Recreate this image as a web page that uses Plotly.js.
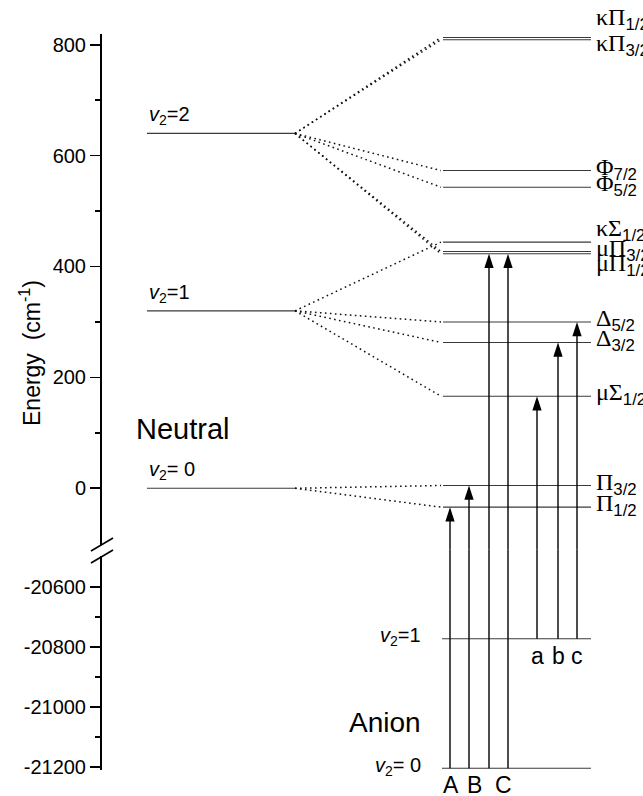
<!DOCTYPE html>
<html><head><meta charset="utf-8">
<script src="https://cdn.plot.ly/plotly-3.0.1.min.js"></script>
<style>body{margin:0;background:#fff}#chart{width:643px;height:796px}</style>
</head><body><div id="chart"></div>
<script>
// ---------------- data ----------------
const neutralV2 = [0, 1, 2];
const neutralEnergies = [0, 320, 640];
const neutralLabels = ['<i>v</i><sub>2</sub>= 0', '<i>v</i><sub>2</sub>=1', '<i>v</i><sub>2</sub>=2'];
const anionV2 = [0, 1];
const anionEnergies = [-21205, -20772];
const anionLabels = ['<i>v</i><sub>2</sub>= 0', '<i>v</i><sub>2</sub>=1'];
const stateSymbols = ['Π', 'Π', 'μΣ', 'Δ', 'Δ', 'κΣ', 'μΠ', 'μΠ', 'Φ', 'Φ', 'κΠ', 'κΠ'];
const stateSubs = ['1/2', '3/2', '1/2', '3/2', '5/2', '1/2', '1/2', '3/2', '5/2', '7/2', '3/2', '1/2'];
const stateEnergies = [-34, 5, 166, 263, 300, 444, 423, 427, 543, 573, 809, 813];
const stateParentV2 = [0, 0, 1, 1, 1, 1, 2, 2, 2, 2, 2, 2];
const transitionLabels = ['A', 'B', '', 'C', 'a', 'b', 'c'];
const transitionFromV2 = [0, 0, 0, 0, 1, 1, 1];
const transitionToState = [0, 1, 6, 6, 2, 3, 4];
const upperTicks = [0, 200, 400, 600, 800];
const upperTickText = ['0', '200', '400', '600', '800'];
const upperMinor = [100, 300, 500, 700];
const lowerTicks = [-21200, -21000, -20800, -20600];
const lowerTickText = ['-21200', '-21000', '-20800', '-20600'];
const lowerMinor = [-21100, -20900, -20700];

// ---------------- layout constants ----------------
const L = 102, W = 541, T = 34, H = 736, FIGH = 796;
const BREAK_PX = 549.5;
const upperRange = [-110.4, 819.3];
const lowerRange = [-21211, -20473.6];
const dSplit = (T + H - BREAK_PX) / H;
const px = v => (v - L) / W;          // pixel x -> paper
const py = v => (T + H - v) / H;      // pixel y -> paper
const leftLine = [147, 295];
const rightLine = [443, 591];
const anionLine = [442, 591];
const dotEnd = 441;
const transitionX = [450, 469, 489, 508, 537, 558, 577];
const transitionLabelX = [451, 474, 0, 503, 537, 558, 577];
const labelShift = {'κΠ1/2': 16, 'κΠ3/2': -7, 'κΣ1/2': 10, 'μΠ3/2': 0, 'μΠ1/2': -13};

const SANS = 'Liberation Sans, Arial, sans-serif';
const SERIF = 'Liberation Serif, Times New Roman, serif';
const LVL = {color: '#3a3a3a', width: 1.1};

function segs(list) { // list of [[x0,y0],[x1,y1]]
  const x = [], y = [];
  list.forEach(s => { x.push(s[0][0], s[1][0], null); y.push(s[0][1], s[1][1], null); });
  return {x, y};
}

const traces = [];
let s = segs(neutralEnergies.map(e => [[leftLine[0], e], [leftLine[1], e]]));
traces.push({x: s.x, y: s.y, xaxis: 'x', yaxis: 'y', mode: 'lines', line: LVL, hoverinfo: 'skip'});
s = segs(stateEnergies.map(e => [[rightLine[0], e], [rightLine[1], e]]));
traces.push({x: s.x, y: s.y, xaxis: 'x', yaxis: 'y', mode: 'lines', line: LVL, hoverinfo: 'skip'});
s = segs(stateEnergies.map((e, i) => [[leftLine[1], neutralEnergies[neutralV2.indexOf(stateParentV2[i])]], [dotEnd, e]]));
traces.push({x: s.x, y: s.y, xaxis: 'x', yaxis: 'y', mode: 'lines',
  line: {color: '#111', width: 1.5, dash: '1.6px,3.4px'}, hoverinfo: 'skip'});
s = segs(anionEnergies.map(e => [[anionLine[0], e], [anionLine[1], e]]));
traces.push({x: s.x, y: s.y, xaxis: 'x', yaxis: 'y2', mode: 'lines', line: LVL, hoverinfo: 'skip'});
s = segs(transitionX.map((xx, i) => [[xx, anionEnergies[anionV2.indexOf(transitionFromV2[i])]], [xx, lowerRange[1] + 300]]));
traces.push({x: s.x, y: s.y, xaxis: 'x', yaxis: 'y2', mode: 'lines', line: {color: '#000', width: 1.4}, hoverinfo: 'skip'});
s = segs(transitionX.map((xx, i) => [[xx, upperRange[0] - 300], [xx, stateEnergies[transitionToState[i]] - 8]]));
traces.push({x: s.x, y: s.y, xaxis: 'x', yaxis: 'y', mode: 'lines', line: {color: '#000', width: 1.4}, hoverinfo: 'skip'});
traces.push({x: transitionX, y: transitionToState.map(k => stateEnergies[k]), xaxis: 'x', yaxis: 'y',
  mode: 'markers', marker: {symbol: 'arrow', size: 15, color: '#000', line: {width: 0}}, hoverinfo: 'skip'});

const ann = [];
neutralEnergies.forEach((e, i) => ann.push({xref: 'x', yref: 'y', x: leftLine[0], y: e, xanchor: 'left', yanchor: 'bottom',
  yshift: 3, showarrow: false, text: neutralLabels[i], font: {family: SANS, size: 20, color: '#000'}}));
anionEnergies.forEach((e, i) => ann.push({xref: 'x', yref: 'y2', x: 423, y: e, xanchor: 'right', yanchor: 'middle',
  yshift: 2, showarrow: false, text: anionLabels[i], font: {family: SANS, size: 20, color: '#000'}}));
stateEnergies.forEach((e, i) => {
  const key = stateSymbols[i] + stateSubs[i];
  ann.push({xref: 'x', yref: 'y', x: 594, y: e, xanchor: 'left', yanchor: 'middle',
    yshift: (labelShift[key] || 0) + 2, showarrow: false,
    text: '<span style="font-family:' + SERIF + '">' + stateSymbols[i] + '</span><sub>' + stateSubs[i] + '</sub>',
    font: {family: SANS, size: 24, color: '#000'}});
});
transitionLabels.forEach((t, i) => {
  if (!t) return;
  const from = anionEnergies[anionV2.indexOf(transitionFromV2[i])];
  ann.push({xref: 'x', yref: 'y2', x: transitionLabelX[i], y: from, xanchor: 'center', yanchor: 'top',
    yshift: -2, showarrow: false, text: t, font: {family: SANS, size: 23, color: '#000'}});
});
ann.push({xref: 'paper', yref: 'paper', x: px(134), y: py(429), xanchor: 'left', yanchor: 'middle', showarrow: false,
  text: 'Neutral', font: {family: SANS, size: 29, color: '#000'}});
ann.push({xref: 'paper', yref: 'paper', x: px(347), y: py(722), xanchor: 'left', yanchor: 'middle', showarrow: false,
  text: 'Anion', font: {family: SANS, size: 28, color: '#000'}});
ann.push({xref: 'paper', yref: 'paper', x: px(30), y: py(353), xanchor: 'center', yanchor: 'middle', showarrow: false,
  textangle: -90, text: 'Energy  (cm<sup>-1</sup>)', font: {family: SANS, size: 23, color: '#000'}});

const shapes = [
  {type: 'rect', xref: 'paper', yref: 'paper', x0: px(98), x1: px(106), y0: py(556), y1: py(545),
    fillcolor: '#fff', line: {width: 0}, layer: 'above'},
  {type: 'line', xref: 'paper', yref: 'paper', x0: px(91), y0: py(551), x1: px(113), y1: py(538), line: {color: '#000', width: 1.6}},
  {type: 'line', xref: 'paper', yref: 'paper', x0: px(91), y0: py(563), x1: px(113), y1: py(550), line: {color: '#000', width: 1.6}}
];

const yCommon = {
  anchor: 'x', showgrid: false, zeroline: false, showline: true, linecolor: '#000', linewidth: 2,
  ticks: 'outside', ticklen: 10, tickwidth: 1.6, tickcolor: '#000', tickmode: 'array',
  tickfont: {family: SANS, size: 20, color: '#000'}, fixedrange: true
};
const layout = {
  width: 643, height: 796, margin: {l: L, r: 643 - L - W, t: T, b: FIGH - T - H},
  paper_bgcolor: '#fff', plot_bgcolor: 'rgba(0,0,0,0)', showlegend: false,
  xaxis: {range: [L, L + W], visible: false, domain: [0, 1], fixedrange: true},
  yaxis: Object.assign({}, yCommon, {domain: [dSplit, 1], range: upperRange, tickvals: upperTicks, ticktext: upperTickText,
    minor: {tickmode: 'array', tickvals: upperMinor, ticks: 'outside', ticklen: 5, tickwidth: 1.6, tickcolor: '#000'}}),
  yaxis2: Object.assign({}, yCommon, {domain: [0, dSplit], range: lowerRange, tickvals: lowerTicks, ticktext: lowerTickText,
    minor: {tickmode: 'array', tickvals: lowerMinor, ticks: 'outside', ticklen: 5, tickwidth: 1.6, tickcolor: '#000'}}),
  annotations: ann, shapes: shapes
};
Plotly.newPlot('chart', traces, layout, {displayModeBar: false, staticPlot: true});
</script>
</body></html>
